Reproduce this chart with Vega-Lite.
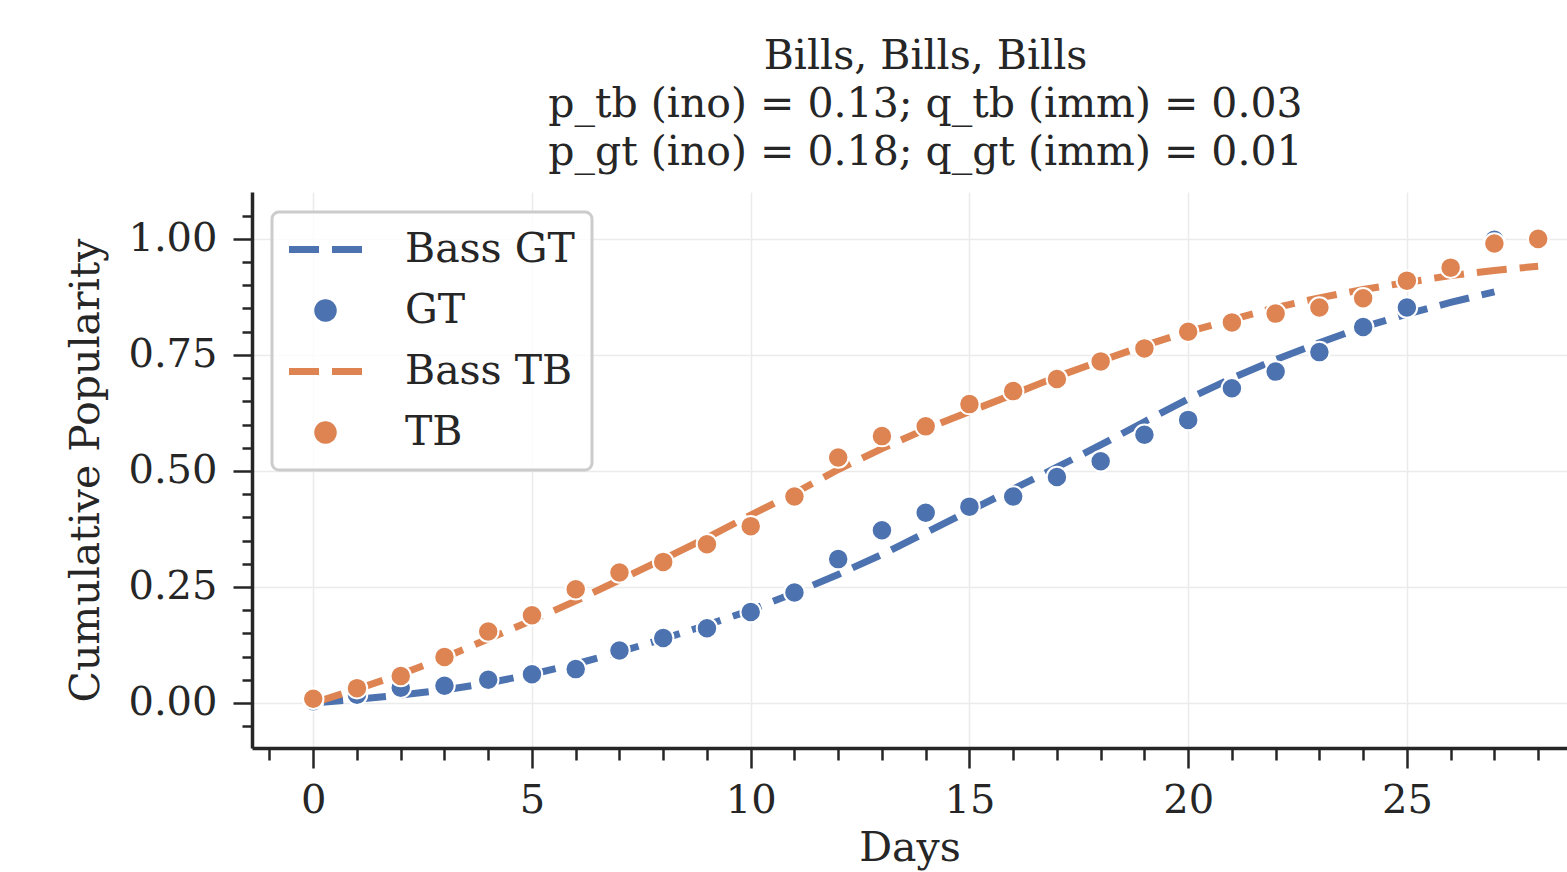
{
  "$schema": "https://vega.github.io/schema/vega-lite/v6.json",
  "width": 1315,
  "height": 556,
  "autosize": {"type": "none"},
  "padding": {"left": 252, "top": 192, "right": 0, "bottom": 124},
  "background": "white",
  "config": {
    "font": "DejaVu Serif",
    "view": {"stroke": null},
    "axis": {
      "labelFont": "DejaVu Serif",
      "titleFont": "DejaVu Serif",
      "labelColor": "#262626",
      "titleColor": "#262626",
      "labelFontSize": 40,
      "titleFontSize": 41,
      "titleFontWeight": "normal",
      "domainColor": "#262626",
      "domainWidth": 3.5,
      "tickColor": "#262626",
      "tickWidth": 2.5,
      "gridColor": "#EBEBEB",
      "gridWidth": 1.5
    }
  },
  "title": {
    "text": ["Bills, Bills, Bills", "p_tb (ino) = 0.13; q_tb (imm) = 0.03", "p_gt (ino) = 0.18; q_gt (imm) = 0.01"],
    "font": "DejaVu Serif",
    "fontSize": 41,
    "fontWeight": "normal",
    "color": "#262626",
    "lineHeight": 48,
    "offset": 18,
    "anchor": "middle",
    "dx": 16
  },
  "data": {
    "values": [
      {"day": 0, "GT": 0.004, "TB": 0.009, "Bass GT": 0.0, "Bass TB": 0.0},
      {"day": 1, "GT": 0.018, "TB": 0.032, "Bass GT": 0.008, "Bass TB": 0.03},
      {"day": 2, "GT": 0.033, "TB": 0.058, "Bass GT": 0.017, "Bass TB": 0.062},
      {"day": 3, "GT": 0.037, "TB": 0.099, "Bass GT": 0.028, "Bass TB": 0.098},
      {"day": 4, "GT": 0.05, "TB": 0.154, "Bass GT": 0.043, "Bass TB": 0.138},
      {"day": 5, "GT": 0.062, "TB": 0.189, "Bass GT": 0.062, "Bass TB": 0.178},
      {"day": 6, "GT": 0.073, "TB": 0.245, "Bass GT": 0.084, "Bass TB": 0.22},
      {"day": 7, "GT": 0.113, "TB": 0.281, "Bass GT": 0.11, "Bass TB": 0.265},
      {"day": 8, "GT": 0.14, "TB": 0.304, "Bass GT": 0.138, "Bass TB": 0.31},
      {"day": 9, "GT": 0.161, "TB": 0.342, "Bass GT": 0.168, "Bass TB": 0.356},
      {"day": 10, "GT": 0.196, "TB": 0.381, "Bass GT": 0.2, "Bass TB": 0.405},
      {"day": 11, "GT": 0.238, "TB": 0.445, "Bass GT": 0.237, "Bass TB": 0.452},
      {"day": 12, "GT": 0.31, "TB": 0.529, "Bass GT": 0.277, "Bass TB": 0.503},
      {"day": 13, "GT": 0.372, "TB": 0.575, "Bass GT": 0.32, "Bass TB": 0.548},
      {"day": 14, "GT": 0.41, "TB": 0.596, "Bass GT": 0.367, "Bass TB": 0.59},
      {"day": 15, "GT": 0.423, "TB": 0.644, "Bass GT": 0.414, "Bass TB": 0.628},
      {"day": 16, "GT": 0.445, "TB": 0.672, "Bass GT": 0.461, "Bass TB": 0.665},
      {"day": 17, "GT": 0.487, "TB": 0.698, "Bass GT": 0.508, "Bass TB": 0.703},
      {"day": 18, "GT": 0.521, "TB": 0.736, "Bass GT": 0.556, "Bass TB": 0.737},
      {"day": 19, "GT": 0.578, "TB": 0.764, "Bass GT": 0.606, "Bass TB": 0.77},
      {"day": 20, "GT": 0.61, "TB": 0.8, "Bass GT": 0.655, "Bass TB": 0.8},
      {"day": 21, "GT": 0.678, "TB": 0.82, "Bass GT": 0.7, "Bass TB": 0.826},
      {"day": 22, "GT": 0.714, "TB": 0.839, "Bass GT": 0.74, "Bass TB": 0.852},
      {"day": 23, "GT": 0.756, "TB": 0.852, "Bass GT": 0.776, "Bass TB": 0.873},
      {"day": 24, "GT": 0.81, "TB": 0.872, "Bass GT": 0.81, "Bass TB": 0.891},
      {"day": 25, "GT": 0.852, "TB": 0.91, "Bass GT": 0.838, "Bass TB": 0.906},
      {"day": 26, "GT": 0.935, "TB": 0.938, "Bass GT": 0.863, "Bass TB": 0.921},
      {"day": 27, "GT": 0.998, "TB": 0.99, "Bass GT": 0.886, "Bass TB": 0.932},
      {"day": 28, "TB": 1.0, "Bass TB": 0.941}
    ]
  },
  "transform": [
    {"fold": ["Bass GT", "GT", "Bass TB", "TB"], "as": ["series", "value"]},
    {"filter": "isValid(datum.value)"}
  ],
  "layer": [
    {
      "transform": [{"filter": "datum.series === 'Bass GT'"}],
      "mark": {"type": "line", "strokeWidth": 7, "strokeDash": [30, 13]},
      "encoding": {
        "x": {
          "field": "day", "type": "quantitative",
          "scale": {"domain": [-1.4, 28.66], "nice": false, "zero": false},
          "axis": {"values": [0, 5, 10, 15, 20, 25], "tickSize": 20, "labelPadding": 12, "format": "d", "grid": true, "title": "Days", "titlePadding": 8, "orient": "bottom"}
        },
        "y": {
          "field": "value", "type": "quantitative",
          "scale": {"domain": [-0.097, 1.101], "nice": false, "zero": false},
          "axis": {"values": [0, 0.25, 0.5, 0.75, 1], "tickSize": 19, "labelPadding": 16, "format": ".2f", "grid": true, "title": "Cumulative Popularity", "titlePadding": 20, "orient": "left"}
        },
        "color": {
          "field": "series", "type": "nominal",
          "scale": {"domain": ["Bass GT", "GT", "Bass TB", "TB"], "range": ["#4C72B0", "#4C72B0", "#DD8452", "#DD8452"]},
          "legend": {
            "orient": "top-left",
            "offset": 20,
            "title": null,
            "labelFont": "DejaVu Serif",
            "labelFontSize": 41,
            "labelColor": "#262626",
            "labelLimit": 500,
            "padding": 17,
            "rowPadding": 19,
            "symbolSize": 1681,
            "symbolOffset": 16,
            "labelOffset": 59,
            "fillColor": "rgba(255,255,255,0.8)",
            "strokeColor": "#CCCCCC",
            "cornerRadius": 7,
            "encoding": {
              "legend": {"strokeWidth": {"value": 3}},
              "symbols": {
                "shape": {"value": {"expr": "(datum.value === 'GT' || datum.value === 'TB') ? 'circle' : 'M-1.78,0L1.78,0'"}},
                "size": {"value": {"expr": "(datum.value === 'GT' || datum.value === 'TB') ? 420 : 1681"}},
                "fill": {"value": {"expr": "datum.value === 'GT' ? '#4C72B0' : (datum.value === 'TB' ? '#DD8452' : 'transparent')"}},
                "stroke": {"value": {"expr": "datum.value === 'Bass GT' ? '#4C72B0' : (datum.value === 'Bass TB' ? '#DD8452' : 'white')"}},
                "strokeWidth": {"value": {"expr": "(datum.value === 'GT' || datum.value === 'TB') ? 2 : 7"}},
                "strokeDash": {"value": {"expr": "(datum.value === 'GT' || datum.value === 'TB') ? [1, 0] : [30, 13]"}},
                "opacity": {"value": 1}
              }
            }
          }
        }
      }
    },
    {
      "transform": [{"filter": "datum.series === 'GT'"}],
      "mark": {"type": "circle", "size": 420, "stroke": "white", "strokeWidth": 2, "opacity": 1},
      "encoding": {
        "x": {
          "field": "day", "type": "quantitative",
          "axis": {"values": [-1, 1, 2, 3, 4, 6, 7, 8, 9, 11, 12, 13, 14, 16, 17, 18, 19, 21, 22, 23, 24, 26, 27, 28], "tickSize": 12, "labels": false, "grid": false, "domain": false, "title": null, "orient": "bottom"}
        },
        "y": {
          "field": "value", "type": "quantitative",
          "axis": {"values": [-0.05, 0.05, 0.1, 0.15, 0.2, 0.3, 0.35, 0.4, 0.45, 0.55, 0.6, 0.65, 0.7, 0.8, 0.85, 0.9, 0.95, 1.05], "tickSize": 10, "labels": false, "grid": false, "domain": false, "title": null, "orient": "left"}
        },
        "color": {"field": "series", "type": "nominal"}
      }
    },
    {
      "transform": [{"filter": "datum.series === 'Bass TB'"}],
      "mark": {"type": "line", "strokeWidth": 7, "strokeDash": [30, 13]},
      "encoding": {
        "x": {"field": "day", "type": "quantitative", "axis": null},
        "y": {"field": "value", "type": "quantitative", "axis": null},
        "color": {"field": "series", "type": "nominal"}
      }
    },
    {
      "transform": [{"filter": "datum.series === 'TB'"}],
      "mark": {"type": "circle", "size": 420, "stroke": "white", "strokeWidth": 2, "opacity": 1},
      "encoding": {
        "x": {"field": "day", "type": "quantitative", "axis": null},
        "y": {"field": "value", "type": "quantitative", "axis": null},
        "color": {"field": "series", "type": "nominal"}
      }
    }
  ],
  "resolve": {"axis": {"x": "independent", "y": "independent"}}
}
